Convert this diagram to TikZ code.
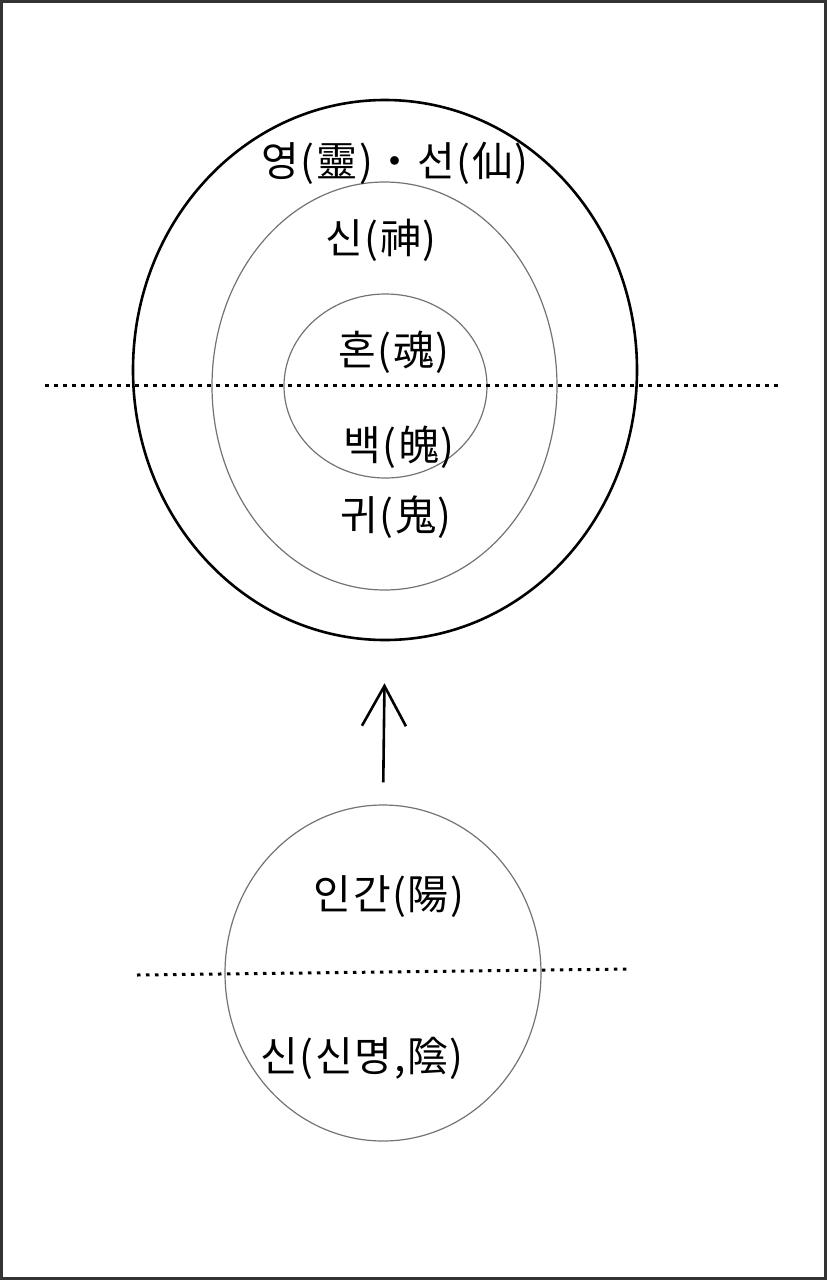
\documentclass[tikz,border=0pt]{standalone}
\usepackage{fontspec}
\newfontfamily\krfont[LetterSpace=4]{Noto Sans CJK KR}
\usetikzlibrary{arrows.meta, shapes.geometric, positioning}

\begin{document}
\begin{tikzpicture}[
    x=1pt, y=-1pt,
    ring/.style={ellipse, draw=black!55, line width=1.2pt, inner sep=0pt},
    outerring/.style={ellipse, draw=black, line width=2.6pt, inner sep=0pt},
    label/.style={font=\krfont\fontsize{41}{44}\selectfont, inner sep=0pt},
    dotline/.style={line width=3pt, dash pattern=on 3.5pt off 5.5pt},
    arrow/.style={-{Straight Barb[length=40pt, width=44pt, line width=2.6pt]}, line width=2.6pt}
]
\useasboundingbox (0,0) rectangle (827,1280);
\draw[line width=3pt, black!80] (1.5,1.5) rectangle (825.5,1278.5);
% upper rings
\node[outerring, minimum width=504pt, minimum height=540pt] (outer) at (385,370) {};
\node[ring, minimum width=345pt, minimum height=408pt] (middle) at (384.5,386) {};
\node[ring, minimum width=203pt, minimum height=184pt] (inner) at (385.5,386) {};
\draw[dotline] (45,385) -- (782,385);
\node[label] (ling) at (395,163) {영(靈)・선(仙)};
\node[label] (shin) at (381,240) {신(神)};
\node[label] (hon) at (394,352) {혼(魂)};
\node[label] (baek) at (399,447) {백(魄)};
\node[label] (gwi) at (396,517) {귀(鬼)};
% lower circle
\node[ring, minimum width=316pt, minimum height=336pt] (lower) at (383,973) {};
\draw[dotline] (137,975) -- (630,969);
\node[label] (human) at (389,897) {인간(陽)};
\node[label] (spirit) at (362,1058) {신(신명,陰)};
\draw[arrow, shorten <=22pt, shorten >=42pt] (lower.north) -- (outer.south);
\end{tikzpicture}
\end{document}
